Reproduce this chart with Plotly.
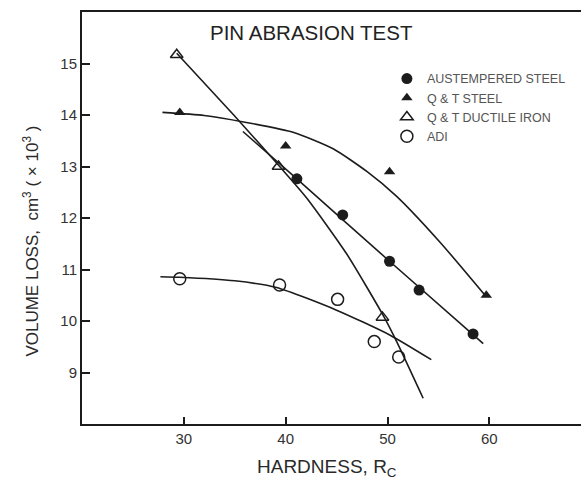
import plotly.graph_objects as go

# Measured points (hardness Rc, volume loss cm^3 x 10^3)
aust_hardness = [41.1, 45.6, 50.2, 53.1, 58.4]
aust_loss = [12.76, 12.06, 11.16, 10.6, 9.75]

qt_steel_hardness = [29.6, 40.0, 50.2, 59.7]
qt_steel_loss = [14.05, 13.40, 12.9, 10.5]

qt_di_hardness = [29.3, 39.3, 49.5]
qt_di_loss = [15.17, 13.0, 10.07]

adi_hardness = [29.6, 39.4, 45.1, 48.7, 51.1]
adi_loss = [10.82, 10.7, 10.42, 9.6, 9.3]

# Trend curves drawn through each material's results
aust_fit_x = [35.8, 41.1, 50.2, 59.4]
aust_fit_y = [13.68, 12.76, 11.16, 9.56]

qt_steel_fit_x = [27.9, 32.0, 36.0, 40.8, 44.7, 48.0, 50.9, 55.2, 59.7]
qt_steel_fit_y = [14.05, 13.99, 13.86, 13.66, 13.34, 12.9, 12.42, 11.52, 10.47]

qt_di_fit_x = [29.3, 34.9, 39.5, 42.1, 46.0, 49.6, 50.9, 53.5]
qt_di_fit_y = [15.2, 14.0, 12.98, 12.38, 11.3, 10.1, 9.6, 8.5]

adi_fit_x = [27.7, 29.6, 35.0, 39.1, 45.0, 50.3, 54.3]
adi_fit_y = [10.86, 10.85, 10.78, 10.65, 10.21, 9.72, 9.25]

x_ticks = [30, 40, 50, 60]
y_ticks = [9, 10, 11, 12, 13, 14, 15]

INK = "#1c1c1c"
FONT = "Liberation Sans, Arial, sans-serif"

fig = go.Figure()

for fx, fy in [(aust_fit_x, aust_fit_y), (qt_steel_fit_x, qt_steel_fit_y),
               (qt_di_fit_x, qt_di_fit_y), (adi_fit_x, adi_fit_y)]:
    fig.add_trace(go.Scatter(
        x=fx, y=fy, mode="lines", line=dict(color=INK, width=1.6, shape="spline", smoothing=0.6),
        showlegend=False, hoverinfo="skip"))

fig.add_trace(go.Scatter(
    x=aust_hardness, y=aust_loss, mode="markers", name="AUSTEMPERED STEEL",
    marker=dict(symbol="circle", size=11, color=INK, line=dict(width=0))))
fig.add_trace(go.Scatter(
    x=qt_steel_hardness, y=qt_steel_loss, mode="markers", name="Q &amp; T STEEL",
    marker=dict(symbol="triangle-up", size=10, color=INK, line=dict(width=0))))
fig.add_trace(go.Scatter(
    x=qt_di_hardness, y=qt_di_loss, mode="markers", name="Q &amp; T DUCTILE IRON",
    marker=dict(symbol="triangle-up-open", size=11, color=INK, line=dict(width=1.5))))
fig.add_trace(go.Scatter(
    x=adi_hardness, y=adi_loss, mode="markers", name="ADI",
    marker=dict(symbol="circle-open", size=12, color=INK, line=dict(width=1.5))))

fig.update_layout(
    width=581, height=481,
    margin=dict(l=82, r=0, t=12, b=57),
    paper_bgcolor="white", plot_bgcolor="white",
    font=dict(family=FONT, color="#2a2a2a"),
    showlegend=True,
    legend=dict(x=0.611, y=0.874, xanchor="left", yanchor="top",
                bgcolor="rgba(0,0,0,0)", borderwidth=0,
                font=dict(size=12.5, color="#555555", family=FONT),
                itemwidth=30),
    xaxis=dict(range=[20, 69], tickvals=x_ticks, ticks="inside", ticklen=7, tickwidth=1.5,
               tickcolor=INK, showline=True, linecolor=INK, linewidth=2, mirror=True,
               showgrid=False, zeroline=False, tickfont=dict(size=15, color="#333333")),
    yaxis=dict(range=[8, 16], tickvals=y_ticks, ticks="inside", ticklen=8, tickwidth=1.5,
               tickcolor=INK, showline=True, linecolor=INK, linewidth=2,
               showgrid=False, zeroline=False, tickfont=dict(size=15, color="#333333")),
    annotations=[
        dict(text="PIN ABRASION TEST", xref="paper", yref="paper", x=0.46, y=0.951,
             xanchor="center", yanchor="middle", showarrow=False,
             font=dict(size=20.5, color="#222222", family=FONT)),
        dict(text="HARDNESS, R<sub>C</sub>", xref="paper", yref="paper", x=0.491, y=-0.107,
             xanchor="center", yanchor="middle", showarrow=False,
             font=dict(size=19, color="#2a2a2a", family=FONT)),
        dict(text="VOLUME LOSS,  cm<sup>3</sup> ( × 10<sup>3</sup> )", xref="paper", yref="paper",
             x=-0.102, y=0.443, textangle=-90, xanchor="center", yanchor="middle",
             showarrow=False, font=dict(size=17, color="#2a2a2a", family=FONT)),
    ],
)

fig.write_html("out.html")
